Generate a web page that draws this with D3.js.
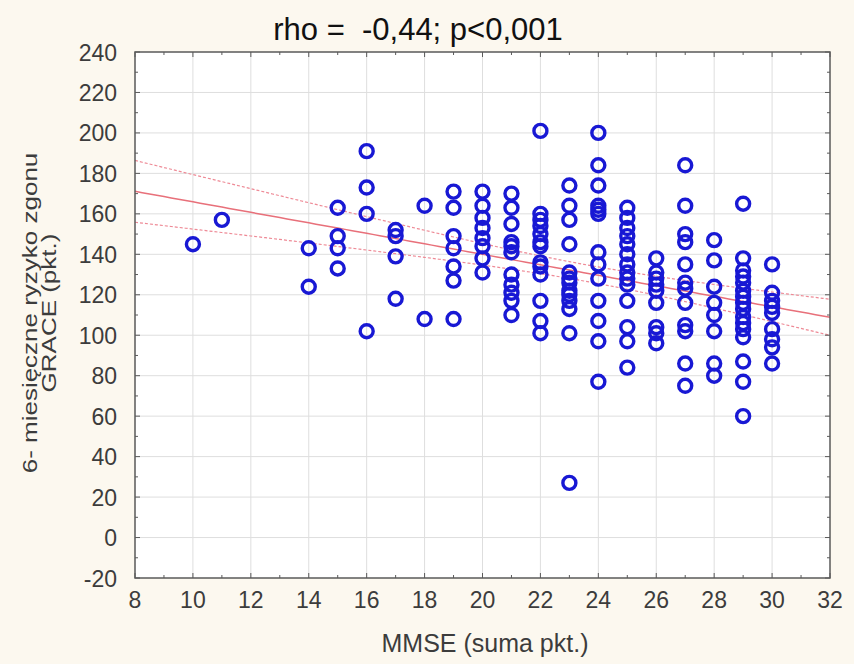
<!DOCTYPE html>
<html>
<head>
<meta charset="utf-8">
<title>MMSE vs GRACE</title>
<script src="https://cdn.jsdelivr.net/npm/d3@7/dist/d3.min.js"></script>
<style>
  body { margin: 0; background: #fcf8ef; }
  svg { display: block; font-family: "Liberation Sans", Arial, sans-serif; }
  text { white-space: pre; }
</style>
</head>
<body>
<svg id="chart"></svg>
<script>
// MMSE score (x) and the GRACE points read for each score (y)
const mmseScores = [10, 11, 14, 15, 16, 17, 18, 19, 20, 21, 22, 23, 24, 25, 26, 27, 28, 29, 30];
const graceValues = [
  [145],
  [157],
  [143, 124],
  [163, 149, 143, 133],
  [191, 173, 160, 102],
  [152, 149, 139, 118],
  [164, 108],
  [171, 163, 149, 143, 134, 127, 108],
  [171, 164, 158, 153, 148, 144, 138, 131],
  [170, 163, 155, 146, 144, 141, 130, 125, 121, 117, 110],
  [201, 160, 157, 154, 150, 146, 144, 136, 134, 130, 117, 107, 101],
  [174, 164, 157, 145, 131, 128, 126, 122, 120, 117, 113, 101, 27],
  [200, 184, 174, 164, 162, 160, 141, 135, 128, 117, 107, 97, 77],
  [163, 158, 153, 149, 145, 140, 135, 131, 128, 125, 117, 104, 97, 84],
  [138, 131, 128, 125, 122, 116, 104, 101, 96],
  [184, 164, 150, 146, 135, 126, 123, 116, 105, 102, 86, 75],
  [147, 137, 124, 116, 110, 102, 86, 80],
  [165, 138, 132, 129, 126, 122, 119, 116, 113, 109, 106, 103, 99, 87, 77, 60],
  [135, 121, 117, 114, 111, 103, 98, 94, 86]
];
const xTicks = d3.range(8, 33, 2);
const yTicks = d3.range(-20, 241, 20);
const titleText = "rho =  -0,44; p<0,001";

const width = 854, height = 664;
const padL = 135, padR = 830, padT = 52, padB = 578;

const svg = d3.select("#chart").attr("width", width).attr("height", height);

const x = d3.scaleLinear().domain([8, 32]).range([padL, padR]);
const y = d3.scaleLinear().domain([-20, 240]).range([padB, padT]);

const points = [];
mmseScores.forEach(function (s, i) {
  graceValues[i].forEach(function (g) { points.push({ x: s, y: g }); });
});

// plot area
svg.append("rect")
  .attr("x", padL).attr("y", padT)
  .attr("width", padR - padL).attr("height", padB - padT)
  .attr("fill", "#ffffff");

// grid
svg.append("g").selectAll("line")
  .data(xTicks.slice(1, -1))
  .join("line")
  .attr("x1", d => x(d)).attr("x2", d => x(d))
  .attr("y1", padT).attr("y2", padB)
  .attr("stroke", "#dedede").attr("stroke-width", 1);
svg.append("g").selectAll("line")
  .data(yTicks.slice(1, -1))
  .join("line")
  .attr("y1", d => y(d)).attr("y2", d => y(d))
  .attr("x1", padL).attr("x2", padR)
  .attr("stroke", "#dedede").attr("stroke-width", 1);

// regression line with 95% band, fitted from the points
const n = points.length;
const mx = d3.mean(points, d => d.x), my = d3.mean(points, d => d.y);
const sxx = d3.sum(points, d => (d.x - mx) * (d.x - mx));
const sxy = d3.sum(points, d => (d.x - mx) * (d.y - my));
const slope = sxy / sxx, icpt = my - slope * mx;
const resid = Math.sqrt(d3.sum(points, d => Math.pow(d.y - (icpt + slope * d.x), 2)) / (n - 2));
const xs = d3.range(8, 32.01, 0.25);
function band(sign) {
  return xs.map(function (v) {
    const se = resid * Math.sqrt(1 / n + (v - mx) * (v - mx) / sxx);
    return [v, icpt + slope * v + sign * 1.97 * se];
  });
}
const line = d3.line().x(d => x(d[0])).y(d => y(d[1]));
svg.append("path")
  .attr("d", line(xs.map(v => [v, icpt + slope * v])))
  .attr("fill", "none").attr("stroke", "#e8707a").attr("stroke-width", 1.5);
[1, -1].forEach(function (sg) {
  svg.append("path")
    .attr("d", line(band(sg)))
    .attr("fill", "none").attr("stroke", "#ee8a96").attr("stroke-width", 1.2)
    .attr("stroke-dasharray", "3,2");
});

// points
svg.append("g").selectAll("circle")
  .data(points)
  .join("circle")
  .attr("cx", d => x(d.x)).attr("cy", d => y(d.y))
  .attr("r", 6.5)
  .attr("fill", "none")
  .attr("stroke", "#1818d4").attr("stroke-width", 3.4);

// frame and ticks
svg.append("rect")
  .attr("x", padL).attr("y", padT)
  .attr("width", padR - padL).attr("height", padB - padT)
  .attr("fill", "none").attr("stroke", "#5a5a5a").attr("stroke-width", 1.5);

const minorX = d3.range(8, 33, 1);
const minorY = d3.range(-20, 241, 10);
const tk = svg.append("g").attr("stroke", "#5a5a5a").attr("stroke-width", 1);
minorX.forEach(function (v) {
  const len = v % 2 === 0 ? 5 : 3;
  tk.append("line").attr("x1", x(v)).attr("x2", x(v)).attr("y1", padB).attr("y2", padB - len);
  tk.append("line").attr("x1", x(v)).attr("x2", x(v)).attr("y1", padT).attr("y2", padT + len);
});
minorY.forEach(function (v) {
  const len = v % 20 === 0 ? 5 : 3;
  tk.append("line").attr("y1", y(v)).attr("y2", y(v)).attr("x1", padL).attr("x2", padL + len);
  tk.append("line").attr("y1", y(v)).attr("y2", y(v)).attr("x1", padR).attr("x2", padR - len);
});

// tick labels
svg.append("g").selectAll("text")
  .data(xTicks)
  .join("text")
  .attr("x", d => x(d)).attr("y", 608)
  .attr("text-anchor", "middle")
  .attr("font-size", 23).attr("fill", "#3c3c3c")
  .text(d => d);
svg.append("g").selectAll("text")
  .data(yTicks)
  .join("text")
  .attr("x", 117).attr("y", d => y(d) + 8.5)
  .attr("text-anchor", "end")
  .attr("font-size", 23).attr("fill", "#3c3c3c")
  .text(d => d);

// titles
svg.append("text")
  .attr("x", 418).attr("y", 40)
  .attr("text-anchor", "middle")
  .attr("font-size", 31).attr("fill", "#111")
  .text(titleText);
svg.append("text")
  .attr("x", 485).attr("y", 652)
  .attr("text-anchor", "middle")
  .attr("font-size", 25).attr("fill", "#3c3c3c")
  .text("MMSE (suma pkt.)");
const yt = svg.append("text")
  .attr("transform", "translate(37,313) scale(0.78,1) rotate(-90)")
  .attr("text-anchor", "middle")
  .attr("font-size", 26).attr("fill", "#3c3c3c");
yt.append("tspan").attr("x", 0).attr("y", 0).text("6- miesięczne ryzyko zgonu");
yt.append("tspan").attr("x", 0).attr("y", 25).text("GRACE (pkt.)");
</script>
</body>
</html>
